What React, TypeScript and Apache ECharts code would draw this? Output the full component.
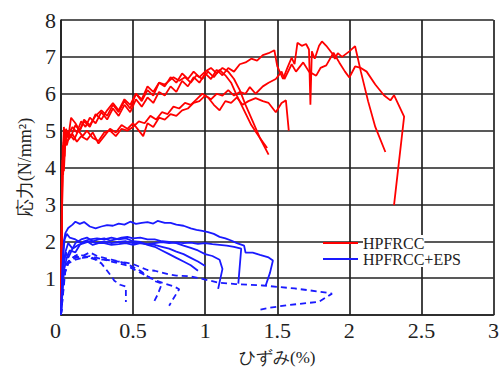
import React, { useEffect, useRef } from "react";
import * as echarts from "echarts";

// x: ひずみ(%), y: 応力(N/mm²)
const xTicks = [0, 0.5, 1, 1.5, 2, 2.5, 3];
const yTicks = [0, 1, 2, 3, 4, 5, 6, 7, 8];

const legendNames = ["HPFRCC", "HPFRCC+EPS"];

// HPFRCC specimens
const red1 = [[0,0],[0.006,2.2],[0.01,4.2],[0.015,3.8],[0.02,4.9],[0.028,4.5],[0.035,5.05],[0.05,4.8],[0.07,5.35],[0.1,5.2],[0.13,5.0],[0.16,5.25],[0.2,5.1],[0.24,5.45],[0.28,5.3],[0.32,5.55],[0.36,5.75],[0.4,5.55],[0.44,5.85],[0.48,5.7],[0.52,6.0],[0.56,5.8],[0.6,6.1],[0.64,5.95],[0.68,6.3],[0.72,6.2],[0.76,6.45],[0.8,6.3],[0.84,6.55],[0.88,6.4],[0.92,6.6],[0.96,6.45],[1.0,6.6],[1.04,6.7],[1.08,6.55],[1.12,6.7],[1.16,6.6],[1.2,6.4],[1.24,6.1],[1.28,5.7],[1.33,5.25],[1.38,4.8],[1.44,4.35]];
const red2 = [[0,0],[0.008,3.0],[0.012,4.6],[0.02,4.0],[0.025,4.8],[0.04,4.6],[0.06,4.9],[0.09,4.75],[0.12,5.0],[0.15,4.85],[0.18,5.0],[0.22,4.8],[0.26,4.72],[0.3,4.95],[0.34,5.0],[0.38,4.85],[0.42,5.05],[0.46,5.0],[0.5,5.1],[0.54,5.25],[0.58,5.2],[0.62,5.4],[0.66,5.3],[0.7,5.5],[0.74,5.45],[0.78,5.65],[0.82,5.6],[0.86,5.75],[0.9,5.7],[0.94,5.85],[0.98,6.0],[1.02,5.9],[1.06,5.7],[1.1,5.55],[1.14,5.8],[1.18,5.75],[1.22,5.9],[1.26,5.7],[1.3,5.8],[1.35,5.88],[1.4,5.8],[1.44,5.75],[1.49,5.5],[1.53,5.75],[1.56,5.82],[1.58,5.0]];
const red3 = [[0,0],[0.005,2.5],[0.01,4.0],[0.018,4.7],[0.025,4.3],[0.03,5.0],[0.05,4.9],[0.08,5.1],[0.11,4.95],[0.14,5.25],[0.17,5.1],[0.2,5.35],[0.24,5.2],[0.28,5.5],[0.32,5.3],[0.36,5.6],[0.4,5.4],[0.44,5.7],[0.48,5.5],[0.52,5.85],[0.56,5.65],[0.6,5.9],[0.64,5.75],[0.68,6.05],[0.72,5.95],[0.76,6.2],[0.8,6.05],[0.84,6.35],[0.88,6.2],[0.92,6.45],[0.96,6.3],[1.0,6.55],[1.04,6.4],[1.08,6.65],[1.12,6.5],[1.16,6.7],[1.2,6.6],[1.24,6.8],[1.28,6.85],[1.32,6.95],[1.36,6.9],[1.4,7.05],[1.44,7.1],[1.48,7.18],[1.5,6.75],[1.54,6.4],[1.57,6.7],[1.6,6.98],[1.62,6.8],[1.64,7.38],[1.67,7.3],[1.7,7.35],[1.72,7.2],[1.73,5.7],[1.74,7.15],[1.76,6.95],[1.79,7.3],[1.81,7.42],[1.84,7.3],[1.88,7.1],[1.9,6.95],[1.92,7.1],[1.95,7.0],[2.0,7.15],[2.04,7.29],[2.08,6.6],[2.13,5.8],[2.18,5.1],[2.25,4.42]];
const red4 = [[0,0],[0.006,3.2],[0.012,4.1],[0.02,3.9],[0.03,4.7],[0.05,4.75],[0.08,4.9],[0.11,4.7],[0.14,4.85],[0.18,4.75],[0.22,4.95],[0.26,4.65],[0.3,4.85],[0.34,5.05],[0.38,4.95],[0.42,5.15],[0.46,5.05],[0.5,5.2],[0.54,5.0],[0.57,4.85],[0.6,5.2],[0.64,5.1],[0.68,5.35],[0.72,5.3],[0.76,5.45],[0.8,5.4],[0.84,5.55],[0.88,5.6],[0.92,5.75],[0.96,5.8],[1.0,5.95],[1.04,5.85],[1.08,6.0],[1.12,5.95],[1.16,6.1],[1.2,5.95],[1.24,6.05],[1.28,6.0],[1.31,6.18],[1.35,6.0],[1.4,6.2],[1.44,6.3],[1.49,6.4],[1.53,6.6],[1.55,6.4],[1.6,6.8],[1.63,6.6],[1.68,6.85],[1.72,6.6],[1.77,6.49],[1.8,6.7],[1.84,6.77],[1.89,7.11],[1.93,6.85],[1.97,6.6],[2.0,6.44],[2.04,6.74],[2.08,6.7],[2.12,6.6],[2.18,6.25],[2.24,5.96],[2.285,5.82],[2.31,5.96],[2.38,5.38],[2.31,2.98]];
const red5 = [[0,0],[0.007,2.8],[0.013,4.3],[0.02,5.1],[0.03,4.6],[0.045,5.0],[0.07,4.85],[0.1,5.15],[0.13,5.0],[0.16,5.3],[0.2,5.15],[0.24,5.4],[0.28,5.55],[0.32,5.4],[0.36,5.7],[0.4,5.5],[0.44,5.8],[0.48,5.6],[0.52,6.0],[0.56,5.85],[0.6,6.2],[0.64,6.05],[0.68,6.3],[0.72,6.25],[0.78,6.45],[0.82,6.35],[0.86,6.45],[0.9,6.3],[0.94,6.5],[0.98,6.4],[1.02,6.6],[1.06,6.45],[1.1,6.65],[1.14,6.5],[1.18,6.3],[1.22,5.95],[1.27,5.55],[1.32,5.15],[1.38,4.8],[1.43,4.53]];

// HPFRCC+EPS specimens (solid)
const blue1 = [[0,0],[0.01,1.2],[0.02,2.0],[0.03,2.22],[0.05,2.36],[0.08,2.45],[0.1,2.53],[0.13,2.47],[0.16,2.52],[0.2,2.4],[0.24,2.35],[0.28,2.4],[0.32,2.44],[0.36,2.42],[0.4,2.48],[0.44,2.45],[0.48,2.53],[0.52,2.47],[0.56,2.5],[0.6,2.52],[0.64,2.48],[0.67,2.55],[0.72,2.5],[0.76,2.5],[0.8,2.45],[0.85,2.42],[0.9,2.35],[0.94,2.31],[0.98,2.28],[1.02,2.25],[1.06,2.2],[1.1,2.12],[1.14,2.08],[1.18,2.02],[1.22,1.95],[1.27,1.88],[1.28,1.69],[1.33,1.69],[1.38,1.63],[1.44,1.56],[1.47,1.48],[1.45,1.15],[1.42,0.8]];
const blue2 = [[0,0],[0.012,1.5],[0.025,2.05],[0.04,2.2],[0.06,2.1],[0.1,2.05],[0.14,1.95],[0.18,2.0],[0.22,1.9],[0.26,1.95],[0.3,1.95],[0.35,1.9],[0.4,1.92],[0.45,1.95],[0.5,1.9],[0.55,1.95],[0.6,1.92],[0.65,1.95],[0.7,1.98],[0.75,1.95],[0.8,1.97],[0.85,1.95],[0.9,1.96],[0.95,1.93],[1.0,1.95],[1.05,1.92],[1.1,1.9],[1.15,1.88],[1.2,1.85],[1.25,1.8],[1.23,0.85]];
const blue3 = [[0,0],[0.015,1.3],[0.03,1.7],[0.05,1.95],[0.08,1.8],[0.1,1.95],[0.14,2.05],[0.18,2.1],[0.22,2.0],[0.26,2.05],[0.3,2.08],[0.34,2.02],[0.38,2.05],[0.42,2.1],[0.46,2.12],[0.5,2.08],[0.55,2.1],[0.6,2.05],[0.65,2.05],[0.7,2.0],[0.75,1.98],[0.8,1.95],[0.85,1.88],[0.9,1.82],[0.95,1.75],[1.0,1.65],[1.05,1.6],[1.1,1.5],[1.12,1.25],[1.09,0.71]];
const blue4 = [[0,0],[0.02,1.2],[0.04,1.55],[0.06,1.75],[0.1,1.7],[0.13,1.9],[0.16,2.0],[0.2,2.05],[0.25,2.08],[0.3,2.05],[0.35,2.1],[0.4,2.05],[0.45,2.08],[0.5,2.0],[0.55,1.98],[0.6,1.9],[0.65,1.85],[0.7,1.75],[0.75,1.65],[0.8,1.55],[0.85,1.45],[0.9,1.35],[0.95,1.2]];
const blue5 = [[0,0],[0.02,1.4],[0.035,1.7],[0.05,1.55],[0.08,1.8],[0.12,1.9],[0.16,1.95],[0.2,2.0],[0.25,1.95],[0.3,2.0],[0.35,1.95],[0.4,1.98],[0.45,2.0],[0.5,1.95],[0.55,1.95],[0.6,1.92],[0.65,1.9],[0.7,1.85],[0.75,1.8],[0.8,1.72],[0.85,1.65],[0.9,1.55],[0.95,1.45],[1.0,1.33]];

// HPFRCC+EPS specimens (dashed)
const dash1 = [[0,0],[0.02,1.0],[0.04,1.4],[0.08,1.55],[0.12,1.65],[0.16,1.6],[0.2,1.55],[0.24,1.5],[0.28,1.4],[0.31,1.25],[0.34,1.1],[0.37,0.93],[0.41,0.82],[0.45,0.77],[0.45,0.35]];
const dash2 = [[0,0],[0.025,1.1],[0.05,1.45],[0.1,1.55],[0.15,1.6],[0.2,1.7],[0.25,1.6],[0.3,1.55],[0.35,1.5],[0.4,1.45],[0.45,1.4],[0.5,1.3],[0.55,1.2],[0.6,1.05],[0.65,0.92],[0.7,0.85],[0.67,0.55],[0.64,0.32]];
const dash3 = [[0,0],[0.03,1.2],[0.06,1.5],[0.1,1.6],[0.15,1.55],[0.2,1.58],[0.25,1.5],[0.3,1.5],[0.35,1.45],[0.4,1.4],[0.45,1.35],[0.5,1.25],[0.55,1.15],[0.6,1.05],[0.65,0.95],[0.72,0.85],[0.78,0.78],[0.82,0.7],[0.78,0.45],[0.75,0.25]];
const dash4 = [[0,0],[0.02,1.1],[0.05,1.4],[0.1,1.5],[0.15,1.55],[0.2,1.6],[0.25,1.55],[0.3,1.5],[0.35,1.48],[0.4,1.45],[0.45,1.42],[0.5,1.38],[0.55,1.3],[0.6,1.22],[0.65,1.2],[0.7,1.15],[0.75,1.1],[0.8,1.07],[0.89,1.05],[0.98,0.98],[1.09,0.88],[1.21,0.84],[1.3,0.82],[1.4,0.8],[1.51,0.76],[1.62,0.72],[1.72,0.67],[1.8,0.63],[1.88,0.58],[1.79,0.36],[1.7,0.32],[1.58,0.27],[1.45,0.2],[1.36,0.13]];

const redSeries = [red1, red2, red3, red4, red5];
const blueSolid = [blue1, blue2, blue3, blue4, blue5];
const blueDashed = [dash1, dash2, dash3, dash4];

const RED = "#ff0000";
const BLUE = "#1a1aff";
const FONT = "Liberation Serif";

export default function App() {
  const ref = useRef<HTMLDivElement>(null);
  useEffect(() => {
    if (!ref.current) return;
    const chart = echarts.init(ref.current, null, { renderer: "svg" });
    const mk = (data: number[][], name: string, color: string, dashed: boolean) => ({
      type: "line",
      name,
      data,
      showSymbol: false,
      symbol: "none",
      color,
      lineStyle: { color, width: 1.8, type: dashed ? [6, 4] : "solid" },
      z: 3,
    });
    const series = [
      ...redSeries.map((d) => mk(d, legendNames[0], RED, false)),
      ...blueSolid.map((d) => mk(d, legendNames[1], BLUE, false)),
      ...blueDashed.map((d) => mk(d, legendNames[1], BLUE, true)),
    ];
    const gridLine = { show: true, lineStyle: { color: "#222", width: 1.7 } };
    chart.setOption({
      animation: false,
      backgroundColor: "#fff",
      grid: { left: 61, right: 7, top: 20, bottom: 51, containLabel: false },
      legend: {
        data: legendNames,
        orient: "vertical",
        left: 323,
        top: 235,
        padding: 0,
        itemGap: 0,
        itemWidth: 35,
        itemHeight: 2,
        icon: "rect",
        textStyle: {
          fontFamily: FONT,
          fontSize: 16,
          color: "#222",
          backgroundColor: "#fff",
          lineHeight: 16,
        },
      },
      xAxis: {
        type: "value",
        min: xTicks[0],
        max: xTicks[xTicks.length - 1],
        interval: 0.5,
        name: "ひずみ(%)",
        nameLocation: "middle",
        nameGap: 34,
        nameTextStyle: { fontFamily: FONT, fontSize: 17, color: "#222" },
        axisLine: gridLine,
        axisTick: { show: false },
        splitLine: gridLine,
        axisLabel: {
          fontFamily: FONT,
          fontSize: 22,
          color: "#222",
          margin: 4,
          alignMinLabel: "right",
          formatter: (v: number) => String(v),
        },
      },
      yAxis: {
        type: "value",
        min: yTicks[0],
        max: yTicks[yTicks.length - 1],
        interval: 1,
        name: "応力(N/mm²)",
        nameLocation: "middle",
        nameGap: 27,
        nameTextStyle: { fontFamily: FONT, fontSize: 18, color: "#222" },
        axisLine: gridLine,
        axisTick: { show: false },
        splitLine: gridLine,
        axisLabel: {
          fontFamily: FONT,
          fontSize: 22,
          color: "#222",
          margin: 5,
          formatter: (v: number) => (v === 0 ? "" : String(v)),
        },
      },
      series,
    });
    return () => chart.dispose();
  }, []);
  return (
    <div
      ref={ref}
      style={{ position: "fixed", left: 0, top: 0, width: 502, height: 371, background: "#fff" }}
    />
  );
}
